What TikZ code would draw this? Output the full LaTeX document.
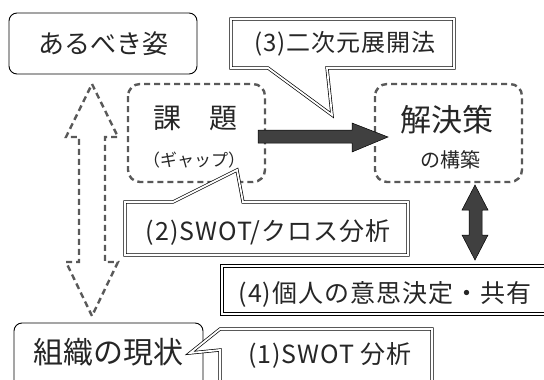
\documentclass[tikz,border=0pt]{standalone}
\usepackage{fontspec}
\setmainfont{Noto Sans CJK JP}
\newcommand{\fs}[1]{\fontsize{#1}{#1}\selectfont}
\newcommand{\fsl}[1]{\fontsize{#1}{#1}\selectfont\addfontfeature{LetterSpace=4}}
\begin{document}
\begin{tikzpicture}[x=1pt,y=-1pt,
  solidbox/.style={draw=black,line width=0.9pt,rounded corners=8pt},
  dashbox/.style={draw=black!65,line width=2.4pt,dash pattern=on 6pt off 4pt,rounded corners=12pt},
  callbox/.style={draw=black,line width=0.7pt,double=white,double distance=1.8pt,fill=white},
  darkarrow/.style={draw=black,line width=0.5pt,fill=black!75},
  hollowarrow/.style={draw=black!65,line width=2.4pt,dash pattern=on 6pt off 4pt},
  lbl/.style={inner sep=0pt,anchor=center,text=black!85}]
\useasboundingbox (0,0) rectangle (544,380);
\clip (0,0) rectangle (544,380);
\fill[white] (0,0) rectangle (544,380);

% solid boxes
\draw[solidbox] (9,13) rectangle (197,74);
\node[lbl,font=\fs{26}] (ideal) at (103,44) {あるべき姿};
\draw[solidbox] (14,323) rectangle (203,400);
\node[lbl,font=\fs{30}] (current) at (109,352) {組織の現状};

% dashed boxes
\draw[dashbox] (128,84) rectangle (265,182);
\node[lbl,font=\fs{28}] (issue) at (195,118) {課　題};
\node[lbl,font=\fs{17}] (gap) at (194,160) {（ギャップ）};
\draw[dashbox] (375,84) rectangle (522,182);
\node[lbl,font=\fs{31}] (sol) at (447,120) {解決策};
\node[lbl,font=\fs{20}] (build) at (450,160) {の構築};

% hollow dashed double arrow
\draw[hollowarrow] (92,84) -- (118,137) -- (105,137) -- (105,262) -- (118,262)
  -- (92,316) -- (66,262) -- (79,262) -- (79,137) -- (66,137) -- cycle;

% dark right arrow
\draw[darkarrow] (258,130) -- (352,130) -- (352,123) -- (388,137) -- (352,152)
  -- (352,143) -- (258,143) -- cycle;

% dark vertical double arrow
\draw[darkarrow] (475,185) -- (488,210) -- (482,210) -- (482,235) -- (488,235)
  -- (475,260) -- (462,235) -- (469,235) -- (469,210) -- (462,210) -- cycle;

% callout (3)
\draw[callbox] (231,19) -- (454,19) -- (454,68) -- (327,68) -- (332,115)
  -- (268,68) -- (231,68) -- cycle;
\node[lbl,font=\fsl{24}] (c3) at (345,44) {(3)二次元展開法};

% callout (2)
\draw[callbox] (125,202) -- (173,202) -- (237,170) -- (243,202) -- (408,202)
  -- (408,255) -- (125,255) -- cycle;
\node[lbl,font=\fsl{25}] (c2) at (268,232) {(2)SWOT/クロス分析};

% callout (4)
\draw[callbox] (222,266) -- (560,266) -- (560,314) -- (222,314) -- cycle;
\node[lbl,font=\fsl{25}] (c4) at (385,294) {(4)個人の意思決定・共有};

% callout (1)
\draw[callbox] (220,329) -- (432,329) -- (432,400) -- (220,400) -- (220,350)
  -- (190,353) -- cycle;
\node[lbl,font=\fsl{25}] (c1) at (330,355) {(1)SWOT 分析};
\end{tikzpicture}
\end{document}
